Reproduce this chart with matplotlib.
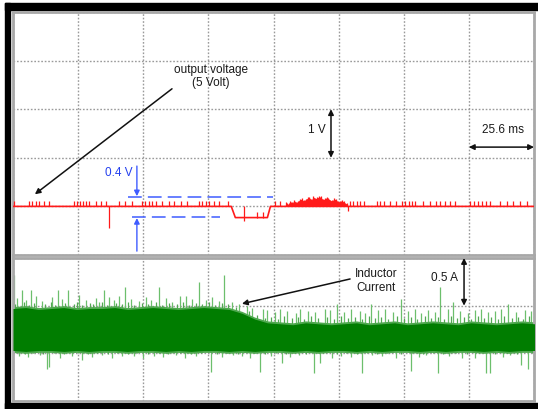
import numpy as np
import matplotlib
matplotlib.use('Agg')
import matplotlib.pyplot as plt
from matplotlib.patches import Rectangle

plt.rcParams['font.family'] = ['Liberation Sans', 'DejaVu Sans']

# scope settings: 8 div x 25.6 ms, 1 V/div (CH1), 0.5 A/div (CH2)
ms_per_div = 25.6
n_div = 8

# ---- output voltage (red) ----
v_base_t = [0, 85.8, 87.4, 100.0, 101.2, 204.8]
v_base = [5.0, 5.0, 4.77, 4.77, 5.0, 5.0]
v_tick_t = [0.4, 6.3, 7.5, 9.1, 10.2, 12.2, 14.2, 24.0, 25.2, 26.4, 27.6, 28.7, 29.9,
            32.7, 34.7, 36.6, 41.7, 44.1, 46.9, 50.8, 52.0, 53.6, 54.7, 56.3, 58.7,
            61.4, 63.4, 66.2, 68.5, 73.2, 74.4, 76.0, 77.2, 79.2, 81.1, 84.7, 102.8,
            104.8, 132.3, 133.5, 135.1, 136.3, 137.8, 143.0, 144.1, 145.7, 148.1, 150.4,
            152.8, 154.0, 155.6, 156.7, 157.9, 161.1, 163.8, 166.2, 167.8, 169.7, 171.7,
            173.7, 179.6, 181.1, 182.7, 184.3, 185.9, 187.5, 191.4, 194.1, 196.5, 199.3,
            202.0]
v_dip_tick_t = [96.1, 98.1]
v_down_t = [37.8, 91.0, 131.5]
v_down = [4.55, 4.69, 4.90]
bump_t = [107.5, 108.3, 109.0, 109.8, 110.5, 111.3, 112.0, 112.8, 113.5, 114.3, 115.0,
          115.8, 116.5, 117.3, 118.0, 118.8, 119.5, 120.3, 121.0, 121.8, 122.5, 123.3,
          124.0, 124.8, 125.5, 126.3, 127.0, 127.8, 128.5, 129.3, 130.0, 131.2]
bump_top = [5.08, 5.04, 5.10, 5.07, 5.12, 5.08, 5.10, 5.14, 5.15, 5.11, 5.14, 5.17,
            5.18, 5.13, 5.20, 5.16, 5.17, 5.20, 5.19, 5.14, 5.15, 5.18, 5.16, 5.12,
            5.12, 5.15, 5.14, 5.09, 5.10, 5.12, 5.09, 5.05]

# ---- inductor current (green) ----
band_t = [0, 5, 10, 15, 20, 25, 30, 35, 40, 45, 50, 55, 60, 65, 70, 75, 80, 85, 90, 95,
          100, 105, 110, 115, 120, 125, 130, 135, 140, 145, 150, 155, 160, 165, 170, 175,
          180, 185, 190, 195, 200, 205]
band_top = [0.97, 0.98, 0.96, 0.97, 0.98, 0.96, 0.97, 0.97, 0.98, 0.96, 0.97, 0.98, 0.97,
            0.96, 0.97, 0.98, 0.97, 0.96, 0.92, 0.86, 0.82, 0.81, 0.80, 0.82, 0.81, 0.80,
            0.81, 0.82, 0.80, 0.81, 0.82, 0.80, 0.81, 0.82, 0.81, 0.80, 0.82, 0.81, 0.80,
            0.81, 0.82, 0.81]
band_bot = [0.53, 0.52, 0.53, 0.53, 0.52, 0.53, 0.52, 0.53, 0.53, 0.52, 0.53, 0.53, 0.52,
            0.53, 0.52, 0.53, 0.53, 0.52, 0.53, 0.52, 0.53, 0.53, 0.52, 0.53, 0.52, 0.53,
            0.53, 0.52, 0.53, 0.52, 0.53, 0.53, 0.52, 0.53, 0.52, 0.53, 0.53, 0.52, 0.53,
            0.52, 0.53, 0.53]
up_t = [0.4, 3.5, 7.1, 17.7, 21.7, 35.8, 44.1, 57.5, 65.8, 73.2, 83.1, 127.2, 140.6,
        152.4, 167.8, 172.9, 194.6]
up_i = [1.32, 1.16, 1.16, 1.16, 1.16, 1.16, 1.20, 1.20, 1.10, 1.25, 1.32, 1.02, 1.02,
        1.07, 1.20, 1.04, 1.02]
mid_up_t = [1.6, 5.1, 9.1, 11.4, 15.4, 19.3, 26.0, 28.7, 32.7, 33.9, 37.8, 39.8, 41.7,
            46.5, 49.6, 52.4, 54.3, 60.3, 62.6, 68.1, 70.5, 76.0, 78.4, 81.1, 86.2, 89.0,
            91.8, 94.1, 98.1, 100.0, 102.8, 105.1, 107.9, 111.1, 113.0, 115.8, 118.9,
            122.5, 124.8, 130.3, 132.7, 136.3, 138.2, 143.3, 146.1, 149.3, 155.2, 157.9,
            160.3, 163.0, 165.8, 170.9, 175.6, 178.8, 181.5, 183.9, 186.7, 189.4, 191.8,
            197.7, 201.2, 203.6]
mid_up_i = [1.08, 1.06, 1.10, 1.05, 1.09, 1.07, 1.11, 1.06, 1.08, 1.04, 1.09, 1.06, 1.10,
            1.07, 1.05, 1.09, 1.06, 1.08, 1.04, 1.10, 1.07, 1.06, 1.09, 1.05, 1.04, 1.02,
            1.00, 0.98, 0.96, 0.95, 0.93, 0.96, 0.94, 0.92, 0.97, 0.94, 0.93, 0.96, 0.95,
            0.93, 0.97, 0.94, 0.92, 0.95, 0.96, 0.93, 0.94, 0.97, 0.92, 0.95, 0.93, 0.96,
            0.94, 0.92, 0.95, 0.97, 0.93, 0.94, 0.96, 0.93, 0.95, 0.94]
small_up_t = [0.8, 4.2, 6.4, 8.3, 12.6, 14.8, 16.5, 20.5, 23.8, 25.1, 27.3, 30.2, 31.5,
              35.0, 36.9, 40.6, 43.0, 45.3, 47.6, 50.7, 53.2, 56.1, 58.6, 61.4, 64.3,
              66.9, 69.2, 71.8, 74.4, 77.1, 79.6, 82.3, 84.5, 87.5, 92.9, 96.0, 99.1,
              101.5, 104.0, 106.5, 109.5, 112.0, 114.4, 117.3, 120.0, 123.6, 126.0,
              128.8, 131.5, 134.5, 137.3, 140.0, 142.2, 144.7, 147.6, 150.8, 153.6,
              156.5, 159.0, 161.8, 164.3, 167.0, 169.5, 172.0, 174.5, 177.2, 180.2,
              182.7, 185.3, 188.0, 190.6, 193.2, 196.0, 198.6, 200.3, 202.8]
small_up_i = [1.02, 1.04, 1.01, 1.03, 1.02, 1.04, 1.01, 1.03, 1.02, 1.04, 1.01, 1.03,
              1.02, 1.04, 1.01, 1.03, 1.02, 1.04, 1.01, 1.03, 1.02, 1.04, 1.01, 1.03,
              1.02, 1.04, 1.01, 1.03, 1.02, 1.04, 1.01, 1.03, 1.02, 0.99, 0.94, 0.90,
              0.87, 0.88, 0.86, 0.89, 0.87, 0.88, 0.86, 0.89, 0.87, 0.88, 0.86, 0.89,
              0.87, 0.88, 0.86, 0.89, 0.87, 0.88, 0.86, 0.89, 0.87, 0.88, 0.86, 0.89,
              0.87, 0.88, 0.86, 0.89, 0.87, 0.88, 0.86, 0.89, 0.87, 0.88, 0.86, 0.89,
              0.87, 0.88, 0.86, 0.89]
dn_t = [13.4, 14.2, 27.2, 39.0, 47.7, 78.0, 96.9, 105.9, 118.2, 120.5, 137.0, 156.3,
        167.0, 181.6, 185.9, 187.5, 199.7, 202.4]
dn_i = [0.34, 0.36, 0.43, 0.45, 0.47, 0.30, 0.30, 0.40, 0.29, 0.40, 0.29, 0.31, 0.29,
        0.45, 0.29, 0.29, 0.38, 0.34]
mid_dn_t = [2.5, 6.0, 10.5, 18.5, 23.0, 31.0, 35.0, 43.0, 51.0, 55.5, 59.0, 64.0, 67.5,
            72.0, 82.0, 86.5, 90.0, 93.0, 101.5, 109.0, 112.5, 125.5, 129.0, 133.0, 141.0,
            145.0, 150.5, 159.5, 162.5, 171.5, 176.5, 192.5, 195.5]
mid_dn_i = [0.47, 0.46, 0.48, 0.45, 0.47, 0.46, 0.48, 0.47, 0.45, 0.47, 0.46, 0.48, 0.45,
            0.47, 0.46, 0.48, 0.47, 0.45, 0.47, 0.46, 0.48, 0.45, 0.47, 0.46, 0.48, 0.47,
            0.45, 0.46, 0.48, 0.47, 0.45, 0.46, 0.48]
small_dn_t = [1.2, 4.6, 8.0, 11.8, 16.0, 20.0, 25.6, 29.4, 33.2, 37.2, 41.0, 45.1, 48.9,
              53.0, 57.3, 61.0, 65.5, 69.8, 74.0, 80.0, 84.0, 88.5, 94.6, 99.0, 103.4,
              107.2, 111.0, 115.0, 122.0, 127.5, 131.0, 135.2, 139.0, 143.2, 147.0,
              152.5, 157.0, 161.0, 165.2, 169.0, 174.0, 178.5, 183.0, 189.5, 194.0,
              198.0, 204.0]
small_dn_i = [0.50, 0.49, 0.50, 0.49, 0.50, 0.49, 0.50, 0.49, 0.50, 0.49, 0.50, 0.49,
              0.50, 0.49, 0.50, 0.49, 0.50, 0.49, 0.50, 0.49, 0.50, 0.49, 0.50, 0.49,
              0.50, 0.49, 0.50, 0.49, 0.50, 0.49, 0.50, 0.49, 0.50, 0.49, 0.50, 0.49,
              0.50, 0.49, 0.50, 0.49, 0.50, 0.49, 0.50, 0.49, 0.50, 0.49, 0.50]

W, H = 538, 410
fig = plt.figure(figsize=(W / 100, H / 100), dpi=100)
fig.patch.set_facecolor('white')


def box(x0, y0, x1, y1):
    return [x0 / W, 1 - y1 / H, (x1 - x0) / W, (y1 - y0) / H]


# black screenshot frame
for (x0, y0, x1, y1) in [(5, 4, 10, 410), (5, 4, 538, 11), (5, 403.5, 538, 410)]:
    fig.add_artist(Rectangle((x0 / W, 1 - y1 / H), (x1 - x0) / W, (y1 - y0) / H,
                             transform=fig.transFigure, color='black', zorder=0))

ax_v = fig.add_axes(box(13, 13, 534, 256))
ax_i = fig.add_axes(box(13, 259, 534, 402))

t_end = n_div * ms_per_div
grid_kw = dict(color='#9a9a9a', linestyle=(0, (1.2, 1.3)), linewidth=1.0)
for ax, (lo, hi, step) in [(ax_v, (4, 9, 1)), (ax_i, (0, 1.5, 0.5))]:
    ax.set_xlim(0, t_end)
    ax.set_ylim(lo, hi)
    ax.set_xticks(np.arange(0, t_end + 1, ms_per_div))
    ax.set_yticks(np.arange(lo, hi + 0.01, step))
    ax.tick_params(length=0, labelbottom=False, labelleft=False)
    ax.grid(True, **grid_kw)
    ax.set_axisbelow(True)
    for s in ax.spines.values():
        s.set_color('#a8a8a8')
        s.set_linewidth(2)

red = '#ff1a1a'
ax_v.plot(v_base_t, v_base, color=red, lw=1.2, zorder=3)
ax_v.vlines(v_tick_t, 5.0, 5.11, color=red, lw=0.9, zorder=3)
ax_v.vlines(v_dip_tick_t, 4.77, 4.88, color=red, lw=0.9, zorder=3)
ax_v.vlines(v_down_t, 5.0, v_down, color=red, lw=0.9, zorder=3)
ax_v.fill_between(bump_t, 5.0, bump_top, color=red, lw=0, zorder=3)
ax_v.vlines(bump_t, 5.0, np.array(bump_top) + 0.02, color=red, lw=0.9, zorder=3)

green = '#007d00'
light = '#6cbf6c'
ax_i.vlines(up_t, 0.75, up_i, color=light, lw=0.9, zorder=2)
ax_i.vlines(mid_up_t, 0.75, mid_up_i, color=light, lw=0.9, zorder=2)
ax_i.vlines(small_up_t, 0.75, small_up_i, color='#52a852', lw=0.9, zorder=2)
ax_i.vlines(dn_t, 0.75, dn_i, color=light, lw=0.9, zorder=2)
ax_i.vlines(mid_dn_t, 0.75, mid_dn_i, color=light, lw=0.9, zorder=2)
ax_i.vlines(small_dn_t, 0.75, small_dn_i, color='#52a852', lw=0.9, zorder=2)
ax_i.fill_between(band_t, np.array(band_bot) - 0.02, np.array(band_top) + 0.02,
                  color='#4fa84f', lw=0, zorder=2)
ax_i.fill_between(band_t, band_bot, band_top, color=green, lw=0, zorder=3)

txt = dict(fontsize=8.5, color='#1a1a1a')
arr = dict(arrowstyle='-|>', color='#111111', lw=1.1, mutation_scale=8,
           shrinkA=0, shrinkB=0)
darr = dict(arr, arrowstyle='<|-|>')

ax_v.text(77.8, 7.70, 'output voltage\n(5 Volt)', ha='center', va='center',
          linespacing=1.15, **txt)
ax_v.annotate('', xy=(8.6, 5.25), xytext=(62.5, 7.42), arrowprops=arr)
ax_v.annotate('', xy=(125.0, 7.0), xytext=(125.0, 6.0), arrowprops=darr)
ax_v.text(123.0, 6.59, '1 V', ha='right', va='center', **txt)
ax_v.annotate('', xy=(179.2, 6.22), xytext=(204.8, 6.22), arrowprops=darr, zorder=5)
ax_v.text(192.6, 6.59, '25.6 ms', ha='center', va='center', **txt)

blue = '#3f5cff'
ax_v.text(41.7, 5.71, '0.4 V', ha='center', va='center', fontsize=8.5, color='#2440ee')
ax_v.plot([45.2, 102.2], [5.2, 5.2], color=blue, lw=1.1, linestyle=(0, (9, 4)), zorder=4)
ax_v.plot([46.8, 81.4], [4.78, 4.78], color=blue, lw=1.1, linestyle=(0, (9, 4)), zorder=4)
barr = dict(arr, color=blue, lw=1.0)
ax_v.annotate('', xy=(48.7, 5.21), xytext=(48.7, 5.83), arrowprops=barr)
ax_v.annotate('', xy=(48.7, 4.76), xytext=(48.7, 4.08), arrowprops=barr)

ax_i.text(142.7, 1.27, 'Inductor\nCurrent', ha='center', va='center',
          linespacing=1.15, zorder=5, **txt)
ax_i.annotate('', xy=(90.0, 1.02), xytext=(132.5, 1.28), arrowprops=arr)
ax_i.annotate('', xy=(177.3, 1.5), xytext=(177.3, 1.0), arrowprops=darr)
ax_i.text(174.9, 1.30, '0.5 A', ha='right', va='center', **txt)

fig.savefig('out.png', dpi=100)
